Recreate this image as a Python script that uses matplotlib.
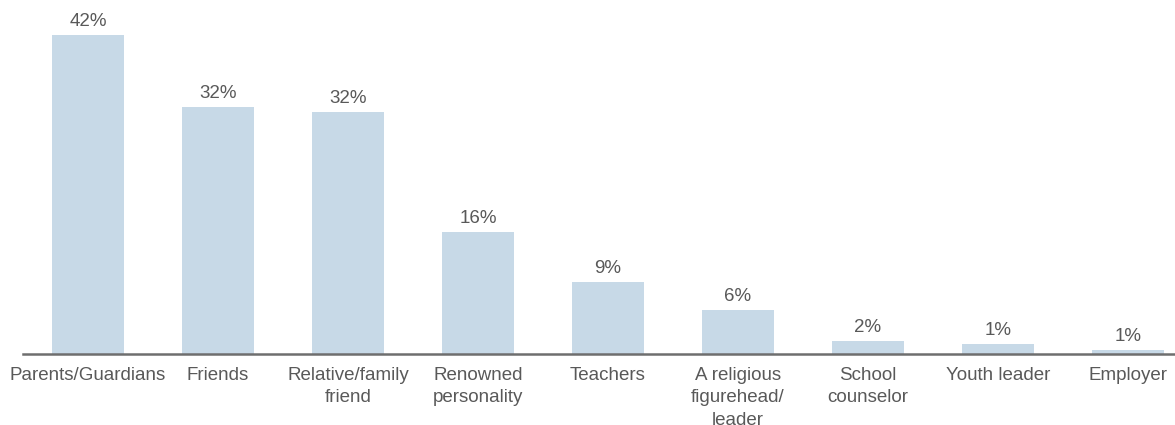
import matplotlib
matplotlib.use('Agg')
from matplotlib import pyplot as plt

categories = ['Parents/Guardians', 'Friends', 'Relative/family\nfriend', 'Renowned\npersonality',
              'Teachers', 'A religious\nfigurehead/\nleader', 'School\ncounselor', 'Youth leader', 'Employer']
values = [42.0, 32.5, 31.8, 16.0, 9.5, 5.8, 1.7, 1.3, 0.5]
labels = ['42%', '32%', '32%', '16%', '9%', '6%', '2%', '1%', '1%']

plt.rcParams['font.family'] = ['Liberation Sans', 'DejaVu Sans']
txt = '#595959'

fig = plt.figure(figsize=(11.75, 4.25), dpi=100)
# axes spans past the right edge of the figure, like the original
ax = fig.add_axes([23/1175, 1 - 354/425, 1170/1175, 354/425])

x = list(range(len(categories)))
ax.bar(x, values, width=0.554, color='#c7d9e7')
for xi, v, lab in zip(x, values, labels):
    ax.text(xi, v + 0.7, lab, ha='center', va='bottom', fontsize=13.5, color=txt)

ax.set_xlim(-0.5, 8.5)
ax.set_ylim(0, 46.6)
ax.set_xticks(x)
ax.set_xticklabels(categories, fontsize=13.5, color=txt, linespacing=1.45)
ax.tick_params(axis='x', length=0, pad=9)
ax.set_yticks([])
for s in ['top', 'right', 'left']:
    ax.spines[s].set_visible(False)
ax.spines['bottom'].set_color('#6e6e6e')
ax.spines['bottom'].set_linewidth(1.8)

fig.savefig('out.png', dpi=100)
